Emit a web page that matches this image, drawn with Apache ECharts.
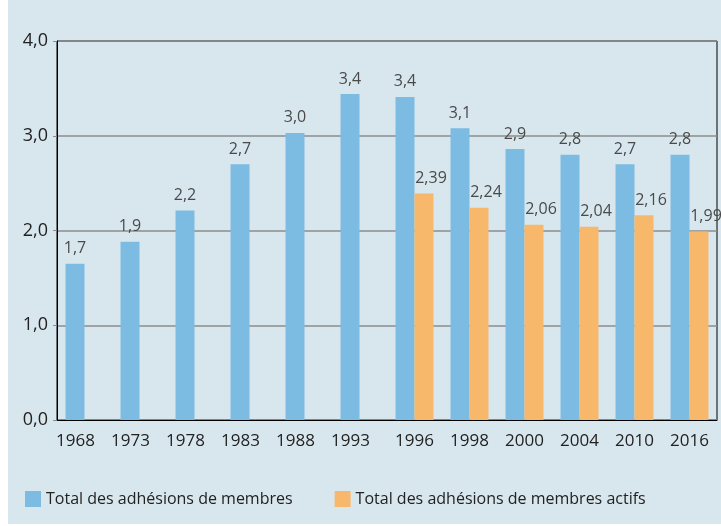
<!DOCTYPE html>
<html>
<head>
<meta charset="utf-8">
<script src="https://cdn.jsdelivr.net/npm/echarts@6/dist/echarts.min.js"></script>
<style>
  html, body { margin: 0; padding: 0; background: #ffffff; }
  #bg { position: absolute; left: 8px; top: 0; width: 713px; height: 524px; background: #d8e7ee; }
  #chart { position: absolute; left: 0; top: 0; width: 721px; height: 526px; }
</style>
</head>
<body>
<div id="bg"></div>
<div id="chart"></div>
<script>
// annees
var annees = ['1968', '1973', '1978', '1983', '1988', '1993', '1996', '1998', '2000', '2004', '2010', '2016'];
// total des adhesions (millions)
var totalMembres = [1.65, 1.88, 2.21, 2.70, 3.03, 3.44, 3.41, 3.08, 2.86, 2.80, 2.70, 2.80];
var totalMembresLabels = ['1,7', '1,9', '2,2', '2,7', '3,0', '3,4', '3,4', '3,1', '2,9', '2,8', '2,7', '2,8'];
// membres actifs (depuis 1996)
var membresActifs = [null, null, null, null, null, null, 2.39, 2.24, 2.06, 2.04, 2.16, 1.99];
var yTicks = ['0,0', '1,0', '2,0', '3,0', '4,0'];

var bleu = '#7cbbe2';
var orange = '#f8b86b';
var texte = '#222222';
var police = 'Open Sans';

var chart = echarts.init(document.getElementById('chart'));

var option = {
  animation: false,
  textStyle: { fontFamily: police },
  grid: {
    left: 57, right: 4, top: 41, bottom: 106,
    show: true, borderColor: '#000', borderWidth: 1, backgroundColor: 'transparent'
  },
  legend: {
    bottom: 14, left: 20,
    itemWidth: 16, itemHeight: 16, itemGap: 42,
    icon: 'rect',
    textStyle: { fontSize: 16, color: texte, fontFamily: police },
    data: ['Total des adhésions de membres', 'Total des adhésions de membres actifs']
  },
  xAxis: {
    type: 'category',
    data: annees,
    axisLine: { lineStyle: { color: '#000', width: 1 } },
    axisTick: { show: false },
    axisLabel: {
      margin: 13,
      interval: 0,
      formatter: function (v, i) {
        // seules les annees sans barre orange sont centrees sur la barre bleue
        return membresActifs[i] == null ? '{s|' + v + '}' : '{d|' + v + '}';
      },
      rich: {
        s: { fontSize: 17, color: texte, fontFamily: police, padding: [0, 18, 0, 0] },
        d: { fontSize: 17, color: texte, fontFamily: police }
      }
    }
  },
  yAxis: {
    type: 'value',
    min: 0, max: 4, interval: 1,
    axisLine: { show: true, lineStyle: { color: '#000' } },
    axisTick: { show: true, length: 4, lineStyle: { color: '#8c8c8c' } },
    splitLine: { lineStyle: { color: '#8c8c8c', width: 1.5 } },
    axisLabel: {
      fontSize: 18, color: texte, margin: 9,
      formatter: function (v) { return yTicks[Math.round(v)]; }
    }
  },
  series: [
    {
      name: 'Total des adhésions de membres',
      type: 'bar',
      data: totalMembres,
      itemStyle: { color: bleu },
      barGap: '0%',
      barCategoryGap: '31%',
      label: {
        show: true, position: 'top', distance: 7,
        fontSize: 16, color: '#4a4a4a', fontFamily: police,
        formatter: function (p) { return totalMembresLabels[p.dataIndex]; }
      }
    },
    {
      name: 'Total des adhésions de membres actifs',
      type: 'bar',
      data: membresActifs,
      itemStyle: { color: orange },
      label: {
        show: true, position: 'top', distance: 7, offset: [7, 0],
        fontSize: 16, color: '#4a4a4a', fontFamily: police,
        formatter: function (p) { return String(p.value).replace('.', ','); }
      }
    }
  ]
};

chart.setOption(option);
</script>
</body>
</html>
